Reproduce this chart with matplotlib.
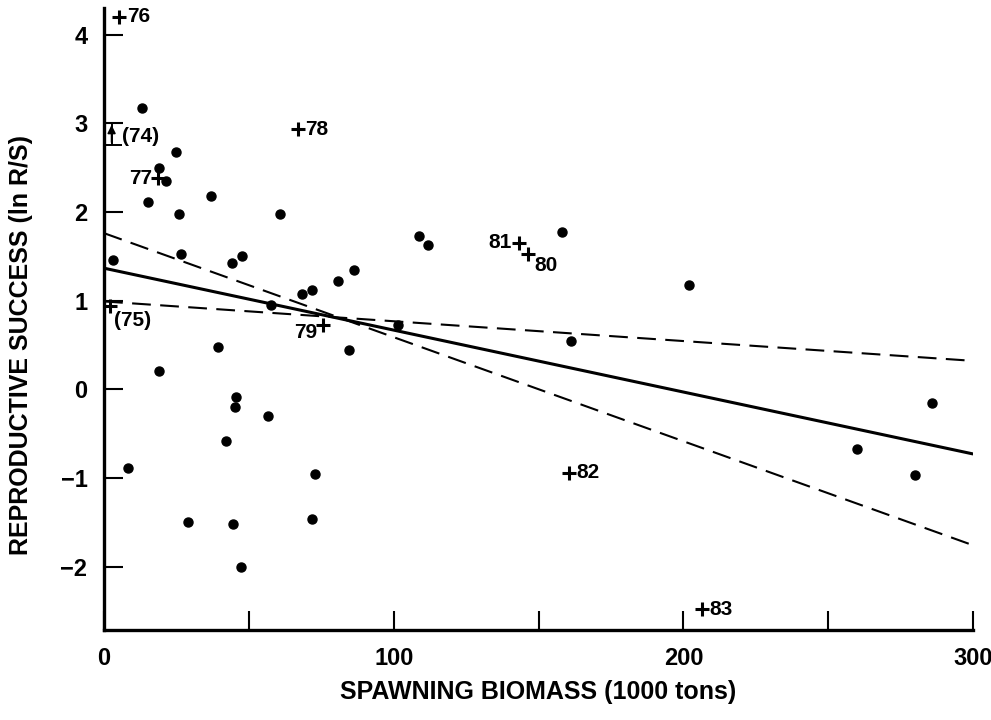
import matplotlib
matplotlib.use("Agg")
import matplotlib.pyplot as plt
import numpy as np

plt.rcParams['font.family'] = ['Liberation Sans', 'DejaVu Sans']

# Unlabelled years (dots)
dot_x = [3.0, 8.2, 13.0, 15.1, 19.1, 19.1, 21.4, 24.9, 25.7, 26.6, 29.1, 36.8, 39.2,
         42.0, 44.3, 44.6, 45.3, 45.6, 47.2, 47.6, 56.5, 57.6, 60.8, 68.2, 71.7, 71.9,
         72.8, 80.9, 84.7, 86.3, 101.6, 108.8, 111.7, 158.0, 161.1, 202.0, 259.8,
         280.0, 285.7]
dot_y = [1.46, -0.89, 3.17, 2.11, 2.50, 0.21, 2.35, 2.67, 1.98, 1.53, -1.50, 2.18, 0.48,
         -0.58, 1.42, -1.52, -0.20, -0.09, -2.01, 1.50, -0.30, 0.95, 1.98, 1.07, 1.12, -1.46,
         -0.96, 1.22, 0.44, 1.34, 0.72, 1.73, 1.63, 1.77, 0.54, 1.18, -0.67,
         -0.97, -0.16]

# Labelled recent years (plus markers)
yr_labels = ["76", "78", "77", "81", "80", "79", "(75)", "82", "83"]
yr_x = [5.3, 67.0, 18.7, 143.2, 146.5, 75.5, 2.1, 160.6, 206.3]
yr_y = [4.20, 2.93, 2.38, 1.65, 1.52, 0.72, 0.94, -0.94, -2.48]

# 1974 range
y74_x = 2.6
y74_lo, y74_hi = 2.755, 3.0

# Regression lines (end points at x = 0 and 300)
fit_x = [0, 300]
fit_solid = [1.365, -0.73]
fit_dash_steep = [1.76, -1.76]
fit_dash_flat = [0.99, 0.32]

fig = plt.figure(figsize=(9.91, 7.2), dpi=100)
ax = fig.add_axes([0.105, 0.125, 0.877, 0.864])

ax.plot(fit_x, fit_solid, color='black', lw=2.2, solid_capstyle='butt')
ax.plot(fit_x, fit_dash_steep, color='black', lw=1.5, dashes=(9, 4.5))
ax.plot(fit_x, fit_dash_flat, color='black', lw=1.5, dashes=(9, 4.5))

ax.plot(dot_x, dot_y, 'o', color='black', ms=6.5, mec='black')
ax.plot(yr_x, yr_y, '+', color='black', ms=9.5, mew=2.2)

# 74 range bar
ax.errorbar([y74_x], [(y74_lo + y74_hi) / 2], yerr=[[(y74_hi - y74_lo) / 2], [(y74_hi - y74_lo) / 2]],
            fmt='none', ecolor='black', elinewidth=1.4, capsize=7, capthick=1.4)
ax.annotate('', xy=(y74_x, y74_hi - 0.02), xytext=(y74_x, y74_lo + 0.03),
            arrowprops=dict(arrowstyle='-|>', color='black', lw=1.2, mutation_scale=12,
                            shrinkA=0, shrinkB=0))
ax.text(y74_x + 3.5, (y74_lo + y74_hi) / 2 - 0.03, "(74)", fontsize=15, fontweight='bold',
        va='center', ha='left')

fs = 15
offsets = {
    "76": (2.5, 0.0, 'left', 'center'),
    "78": (2.5, 0.0, 'left', 'center'),
    "77": (-2.0, 0.0, 'right', 'center'),
    "81": (-2.5, 0.0, 'right', 'center'),
    "80": (2.0, -0.12, 'left', 'center'),
    "79": (-2.0, -0.08, 'right', 'center'),
    "(75)": (1.5, -0.16, 'left', 'center'),
    "82": (2.5, 0.0, 'left', 'center'),
    "83": (2.5, 0.0, 'left', 'center'),
}
for lab, x, y in zip(yr_labels, yr_x, yr_y):
    dx, dy, ha, va = offsets[lab]
    ax.text(x + dx, y + dy, lab, fontsize=fs, fontweight='bold', ha=ha, va=va)

ax.set_xlim(0, 300)
ax.set_ylim(-2.715, 4.30)
ax.spines['top'].set_visible(False)
ax.spines['right'].set_visible(False)
ax.spines['left'].set_linewidth(2.4)
ax.spines['bottom'].set_linewidth(2.4)

ax.set_xticks([0, 100, 200, 300])
ax.set_xticks([50, 150, 250], minor=True)
ax.set_xticklabels(["0", "100", "200", "300"])
ax.set_yticks([-2, -1, 0, 1, 2, 3, 4])
ax.set_yticklabels(["\u22122", "\u22121", "0", "1", "2", "3", "4"])
ax.tick_params(axis='both', which='both', direction='in', length=14, width=1.5,
               labelsize=17, pad=12)
for t in ax.get_xticklabels() + ax.get_yticklabels():
    t.set_fontweight('bold')

ax.set_xlabel("SPAWNING BIOMASS (1000 tons)", fontsize=18, fontweight='bold')
ax.set_ylabel("REPRODUCTIVE SUCCESS (ln R/S)", fontsize=18, fontweight='bold')
ax.xaxis.set_label_coords(0.5, -0.080)
ax.yaxis.set_label_coords(-0.082, 0.458)

fig.savefig("out.png", dpi=100)
